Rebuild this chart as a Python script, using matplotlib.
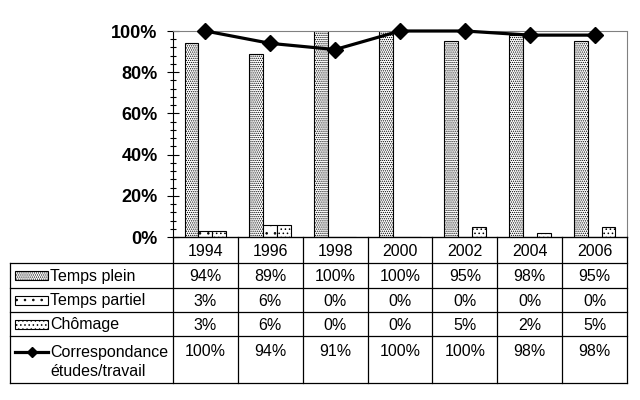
import matplotlib
matplotlib.use("Agg")
import matplotlib.pyplot as plt
import matplotlib.patches as mpatches
from matplotlib.lines import Line2D
from matplotlib.ticker import MultipleLocator, FuncFormatter

# ── Data ──────────────────────────────────────────────────────
years          = ["1994", "1996", "1998", "2000", "2002", "2004", "2006"]
temps_plein    = [94, 89, 100, 100, 95, 98, 95]
temps_partiel  = [3, 6, 0, 0, 0, 0, 0]
chomage        = [3, 6, 0, 0, 5, 2, 5]
correspondance = [100, 94, 91, 100, 100, 98, 98]

series_names = ["Temps plein", "Temps partiel", "Chômage"]
line_label   = "Correspondance\nétudes/travail"

plt.rcParams["font.family"] = ["Liberation Sans", "DejaVu Sans"]
plt.rcParams["hatch.linewidth"] = 0.6

W, H = 640, 400
fig = plt.figure(figsize=(W / 100, H / 100), dpi=100)
fig.patch.set_facecolor("white")

# pixel layout of the plot area
X0, X1 = 173, 627
Y_TOP, Y_ZERO = 31, 237

ax = fig.add_axes([X0 / W, 1 - Y_ZERO / H, (X1 - X0) / W, (Y_ZERO - Y_TOP) / H])

hatches = ["........", "..", "...."]
series  = [temps_plein, temps_partiel, chomage]
bw = 0.215
x = list(range(len(years)))
for k, (vals, h) in enumerate(zip(series, hatches)):
    xs = [i + (k - 1) * bw for i in x]
    ax.bar(xs, vals, width=bw, facecolor="white", edgecolor="black",
           hatch=h, linewidth=0.8, zorder=2)

ax.plot(x, correspondance, color="black", lw=2.3, marker="D",
        markersize=8, zorder=4, clip_on=False)

ax.set_xlim(-0.5, len(years) - 0.5)
ax.set_ylim(0, 100)
ax.set_xticks([])
ax.yaxis.set_major_locator(MultipleLocator(20))
ax.yaxis.set_minor_locator(MultipleLocator(4))
ax.yaxis.set_major_formatter(FuncFormatter(lambda v, p: f"{v:.0f}%"))
ax.tick_params(axis="y", which="major", direction="inout", length=8,
               width=0.8, pad=7, labelsize=13)
ax.tick_params(axis="y", which="minor", direction="inout", length=5, width=0.8)
for lab in ax.get_yticklabels():
    lab.set_fontweight("bold")
ax.spines["left"].set_color("black")
ax.spines["bottom"].set_color("black")
for s in ["top", "right"]:
    ax.spines[s].set_color("#808080")
    ax.spines[s].set_linestyle((0, (1, 1)))
    ax.spines[s].set_linewidth(0.8)

# ── Data table below the chart (pixel coordinates) ────────────
tx = fig.add_axes([0, 0, 1, 1])
tx.set_xlim(0, W)
tx.set_ylim(H, 0)
tx.axis("off")

LX = 10
rows_y = [237, 263, 288, 312, 336, 383]
cw = (X1 - X0) / len(years)
lc = dict(color="black", lw=0.9)

# horizontal lines
tx.plot([X0, X1], [rows_y[0], rows_y[0]], **lc)
for y in rows_y[1:]:
    tx.plot([LX, X1], [y, y], **lc)
# vertical lines
tx.plot([LX, LX], [rows_y[1], rows_y[-1]], **lc)
for i in range(len(years) + 1):
    xv = X0 + i * cw
    tx.plot([xv, xv], [rows_y[0], rows_y[-1]], **lc)

fs = 11.5
for i, yr in enumerate(years):
    cx = X0 + (i + 0.5) * cw
    tx.text(cx, (rows_y[0] + rows_y[1]) / 2 + 1, yr, ha="center", va="center", fontsize=fs)
    for r, vals in enumerate(series):
        cy = (rows_y[r + 1] + rows_y[r + 2]) / 2 + 1
        tx.text(cx, cy, f"{vals[i]}%", ha="center", va="center", fontsize=fs)
    tx.text(cx, 352, f"{correspondance[i]}%", ha="center", va="center", fontsize=fs)

# row labels with legend keys
for r, (name, h) in enumerate(zip(series_names, hatches)):
    cy = (rows_y[r + 1] + rows_y[r + 2]) / 2
    tx.add_patch(mpatches.Rectangle((15, cy - 4.5), 33, 9, facecolor="white",
                                    edgecolor="black", hatch=h, lw=0.8))
    tx.text(50, cy + 1, name, ha="left", va="center", fontsize=fs)

tx.add_line(Line2D([15, 48], [352, 352], color="black", lw=2.3))
tx.add_line(Line2D([31.5], [352], color="black", marker="D", markersize=5.5))
tx.text(50, 362, line_label, ha="left", va="center", fontsize=fs, linespacing=1.4)

fig.savefig("out.png", dpi=100, facecolor="white")
